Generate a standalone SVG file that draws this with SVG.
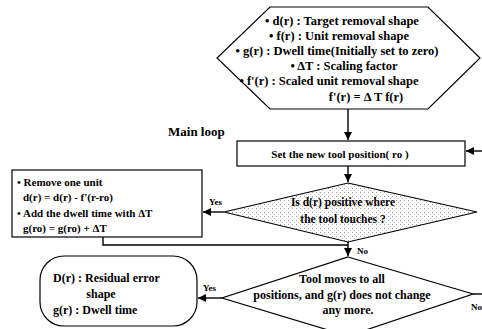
<svg xmlns="http://www.w3.org/2000/svg" width="482" height="329" viewBox="0 0 482 329">
<defs>
<pattern id="dots" width="4" height="4" patternUnits="userSpaceOnUse">
<rect width="4" height="4" fill="#ffffff"/>
<rect x="0" y="0" width="1" height="1" fill="#9a9a9a"/>
<rect x="2" y="2" width="1" height="1" fill="#c4c4c4"/>
</pattern>
<marker id="arr" markerWidth="9" markerHeight="9" refX="8" refY="4.5" orient="auto" markerUnits="userSpaceOnUse">
<path d="M0,0.5 L8,4.5 L0,8.5 z" fill="#000"/>
</marker>
</defs>
<style>
text{font-family:"Liberation Serif","Times New Roman",serif;font-weight:bold;font-size:11px;fill:#000}
.h{font-size:12.5px}
.s{fill:#fff;stroke:#000;stroke-width:1.2}
.c{fill:none;stroke:#000;stroke-width:1.4}
.m{text-anchor:middle}
.l{font-size:9px}
</style>
<g id="init">
<polygon class="s" points="270,7 428,7 480,58 428,109 270,109 217,58"/>
<text class="m h" x="342" y="25">• d(r) : Target removal shape</text>
<text class="m h" x="339" y="40">• f(r) : Unit removal shape</text>
<text class="m h" x="337" y="55">• g(r) : Dwell time(Initially set to zero)</text>
<text class="m h" x="344" y="70">• ΔT : Scaling factor</text>
<text class="m h" x="329" y="85">• f'(r) : Scaled unit removal shape</text>
<text class="m h" x="366" y="101">f'(r) = Δ T f(r)</text>
</g>
<g id="mainloop">
<text x="168" y="136" style="font-size:13px">Main loop</text>
</g>
<g id="setpos">
<rect class="s" x="237" y="141" width="228" height="25"/>
<text class="m" x="340" y="158">Set the new tool position( ro )</text>
</g>
<g id="check">
<polygon points="348,183 477,212 348,242 224,212" fill="url(#dots)" stroke="#000" stroke-width="1.2"/>
<text class="m" x="343" y="206" style="font-size:11.5px">Is d(r) positive where</text>
<text class="m" x="343" y="223" style="font-size:11.5px">the tool touches ?</text>
</g>
<g id="remove">
<rect class="s" x="12" y="170" width="190" height="67"/>
<text x="17" y="186">• Remove one unit</text>
<text x="23" y="201">d(r) = d(r)  - f'(r-ro)</text>
<text x="17" y="217">• Add the dwell time with   ΔT</text>
<text x="23" y="232">g(ro) = g(ro) + ΔT</text>
</g>
<g id="done">
<polygon class="s" points="348,257 473,294 348,336 222,298"/>
<text class="m" x="342" y="283" style="font-size:12px">Tool moves to all</text>
<text class="m" x="342" y="299" style="font-size:12px">positions, and g(r) does not change</text>
<text class="m" x="348" y="314" style="font-size:12px">any more.</text>
</g>
<g id="result">
<rect class="s" x="40" y="256" width="157" height="70" rx="24" ry="24"/>
<text x="53" y="282" style="font-size:12px">D(r) : Residual error</text>
<text class="m" x="101" y="298" style="font-size:12px">shape</text>
<text x="53" y="314" style="font-size:12px">g(r) : Dwell time</text>
</g>
<g id="connectors">
<line class="c" x1="348" y1="109" x2="348" y2="140" marker-end="url(#arr)"/>
<line class="c" x1="482" y1="151" x2="466" y2="151" marker-end="url(#arr)"/>
<line class="c" x1="348" y1="166" x2="348" y2="182" marker-end="url(#arr)"/>
<line class="c" x1="224" y1="212" x2="203" y2="212" marker-end="url(#arr)"/>
<polyline class="c" points="103,237 103,245 348,245"/>
<line class="c" x1="348" y1="242" x2="348" y2="256" marker-end="url(#arr)"/>
<line class="c" x1="222" y1="298" x2="198" y2="298" marker-end="url(#arr)"/>
<line class="c" x1="473" y1="294" x2="482" y2="294"/>
<text class="l" x="209" y="205">Yes</text>
<text class="l" x="357" y="254">No</text>
<text class="l" x="203" y="291">Yes</text>
<text class="l" x="471" y="310">No</text>
</g>
</svg>
